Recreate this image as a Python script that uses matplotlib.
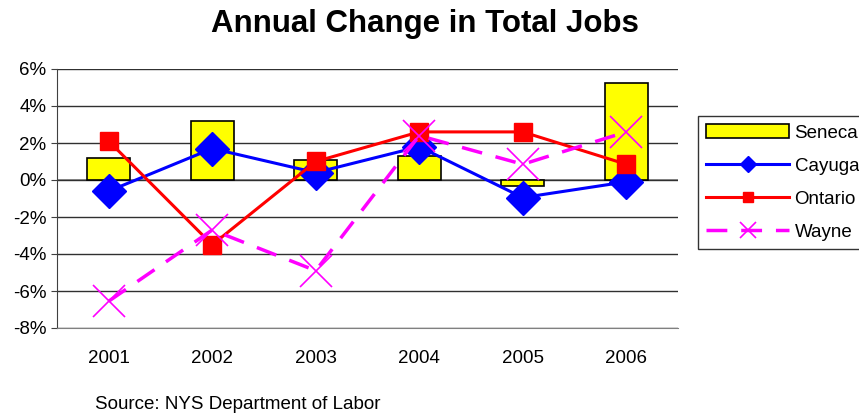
import matplotlib.pyplot as plt
import numpy as np

plt.rcParams['font.family'] = ['Liberation Sans', 'DejaVu Sans']

years = ['2001', '2002', '2003', '2004', '2005', '2006']
seneca = [1.2, 3.2, 1.1, 1.3, -0.35, 5.25]
cayuga = [-0.6, 1.7, 0.4, 1.8, -0.95, -0.1]
ontario = [2.1, -3.5, 1.0, 2.6, 2.6, 0.85]
wayne = [-6.55, -2.7, -4.9, 2.4, 0.85, 2.6]

fig = plt.figure(figsize=(8.59, 4.15), dpi=100)
ax = fig.add_axes([57 / 859, 87 / 415, 621 / 859, 259 / 415])

x = np.arange(len(years))
b = ax.bar(x, seneca, width=0.42, color='#ffff00', edgecolor='black', linewidth=1.2,
           label='Seneca', zorder=2)
l1, = ax.plot(x, cayuga, color='#0000ff', lw=2.2, marker='D', markersize=17,
              label='Cayuga', zorder=3)
l2, = ax.plot(x, ontario, color='#ff0000', lw=2.2, marker='s', markersize=13.5,
              label='Ontario', zorder=4)
l3, = ax.plot(x, wayne, color='#ff00ff', lw=2.5, dashes=(6, 4), marker='x',
              markersize=23, markeredgewidth=1.2, label='Wayne', zorder=5)

ax.set_xlim(-0.5, len(years) - 0.5)
ax.set_ylim(-8, 6)
ax.set_yticks(range(-8, 7, 2))
ax.set_yticklabels([f'{v}%' for v in range(-8, 7, 2)], fontsize=13.5)
ax.set_xticks(x)
ax.set_xticklabels(years, fontsize=13.5)
ax.tick_params(axis='x', length=0, pad=16)
ax.tick_params(axis='y', length=4, direction='out', color='#404040')

ax.grid(axis='y', color='#303030', lw=1, zorder=0)
for s in ['top', 'right']:
    ax.spines[s].set_visible(False)
ax.spines['left'].set_color('#404040')
ax.spines['bottom'].set_color('#808080')
ax.axhline(0, color='#808080', lw=1.2, zorder=1)

fig.text(425 / 859, 1 - 24 / 415, 'Annual Change in Total Jobs', ha='center',
         va='center', fontsize=22.5, fontweight='bold')
fig.text(95 / 859, 1 - 404 / 415, 'Source: NYS Department of Labor', ha='left',
         va='center', fontsize=13.5)

leg = fig.legend([b, l1, l2, l3], ['Seneca', 'Cayuga', 'Ontario', 'Wayne'],
                 loc='upper left', bbox_to_anchor=(698 / 859, 1 - 116 / 415),
                 fontsize=13.5, frameon=True, fancybox=False, edgecolor='black',
                 handlelength=4.4, handletextpad=0.3, borderaxespad=0,
                 borderpad=0.45, labelspacing=0.85, markerscale=0.5)
leg.get_frame().set_linewidth(1)

fig.savefig('out.png', dpi=100)
